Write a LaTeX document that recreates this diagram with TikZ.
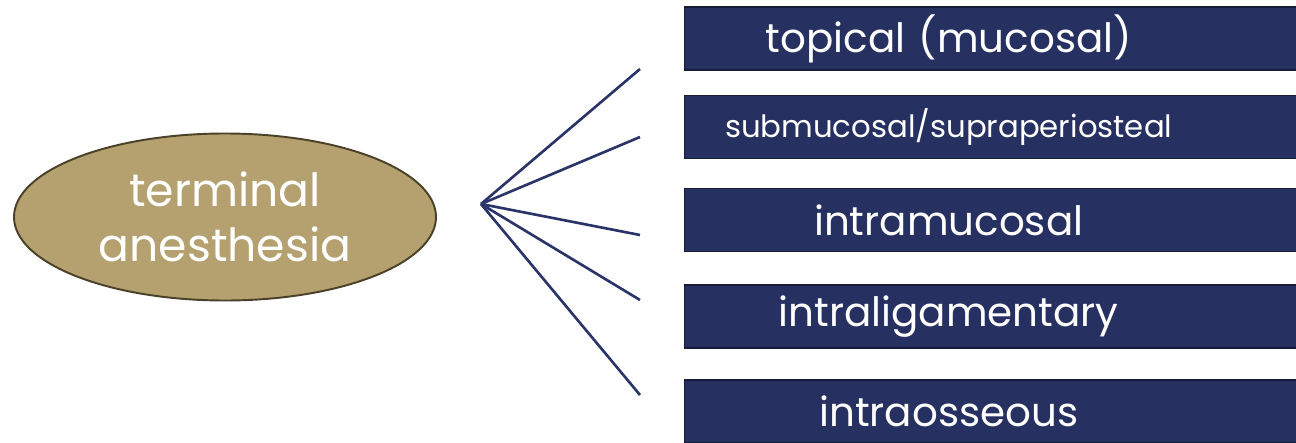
\documentclass[tikz,border=0pt]{standalone}
\usepackage{fontspec}
\setmainfont{Poppins}
\usepackage{tikz}
\usetikzlibrary{shapes.geometric}

\definecolor{navybox}{HTML}{263061}
\definecolor{navyedge}{HTML}{161B38}
\definecolor{navyline}{HTML}{2B3468}
\definecolor{goldfill}{HTML}{B4A16F}
\definecolor{goldedge}{HTML}{4B4128}

\newcommand{\boxtext}[1]{\makebox[105.6mm]{#1}}

\tikzset{
  optbox/.style={rectangle, fill=navybox, draw=navyedge, line width=0.8pt,
    anchor=west, minimum height=12.6mm, inner xsep=0pt, inner ysep=0pt,
    text width=130mm, align=left, text=white, font=\fontsize{23}{27}\selectfont},
  spoke/.style={draw=navyline, line width=1.5pt}
}

\begin{document}
\begin{tikzpicture}[x=0.2mm, y=-0.2mm]

\useasboundingbox (0,0) rectangle (1296,442);

% Main ellipse
\node[ellipse, fill=goldfill, draw=goldedge, line width=1.1pt,
  minimum width=84.4mm, minimum height=33.4mm, inner sep=0pt,
  text=white, align=center, font=\fontsize{26}{31}\selectfont]
  (term) at (225,217) {terminal\\anesthesia};

% Option boxes
\node[optbox] (opt1) at (684,38.5) {\boxtext{topical (mucosal)}};
\node[optbox, font=\fontsize{17.5}{21}\selectfont] (opt2) at (684,127) {\boxtext{submucosal/supraperiosteal}};
\node[optbox] (opt3) at (684,220) {\boxtext{intramucosal}};
\node[optbox] (opt4) at (684,316.5) {\boxtext{intraligamentary}};
\node[optbox] (opt5) at (684,411.5) {\boxtext{intraosseous}};

% Fan of lines
\coordinate (hub) at (481,204);
\foreach \i/\y in {1/69,2/137,3/235,4/300,5/395} {
  \coordinate (end\i) at (640,\y);
  \draw[spoke] (hub) -- (end\i);
}

\end{tikzpicture}
\end{document}
